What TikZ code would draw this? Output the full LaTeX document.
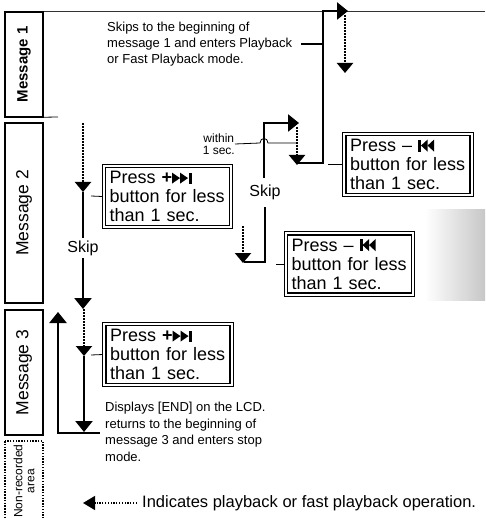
\documentclass[tikz,border=0pt]{standalone}
\usepackage{fontspec}
\setmainfont{Liberation Sans}
\usetikzlibrary{arrows.meta}
\newcommand{\nexttrk}{\tikz[baseline=0pt,x=1pt,y=1pt]{\fill (0,0)--(8,5.5)--(0,11)--cycle; \fill (8,0)--(16,5.5)--(8,11)--cycle; \fill (16.5,0) rectangle (19.5,11);}}
\newcommand{\prevtrk}{\tikz[baseline=0pt,x=1pt,y=1pt]{\fill (0,0) rectangle (3,12); \fill (9.5,0)--(3,6)--(9.5,12)--cycle; \fill (16,0)--(9.5,6)--(16,12)--cycle;}}
\newcommand{\outerframe}[1]{\draw[line width=0.8pt] ([xshift=-2.6pt,yshift=2.6pt]#1.north west) rectangle ([xshift=2.6pt,yshift=-2.6pt]#1.south east);}
\tikzset{
  thk/.style={line width=2.6pt, -{Triangle[width=17pt,length=11pt]}},
  thkline/.style={line width=2.6pt},
  dotarr/.style={line width=2.2pt, dash pattern=on 1.6pt off 1.4pt, -{Triangle[width=16pt,length=10pt]}},
  pbox/.style={draw, line width=1.2pt, align=left,
    font=\fontsize{18}{19}\selectfont, text width=116pt, minimum height=58pt, inner xsep=4pt, inner ysep=1pt},
  msgbox/.style={draw, line width=1.1pt, rotate=90, minimum height=38pt, inner sep=0pt},
  stxt/.style={align=left, inner sep=0pt, font=\fontsize{13}{16.3}\selectfont},
  conn/.style={line width=0.8pt},
  skiplbl/.style={font=\fontsize{16}{18}\selectfont, inner sep=0pt}
}
\begin{document}
\begin{tikzpicture}[x=1pt,y=-1pt]
\clip (0,0) rectangle (485,518);
\fill[white] (0,0) rectangle (485,518);
\shade[left color=white, right color=black!22] (425,210) rectangle (485,300);

% top rule
\coordinate (r0) at (43,11);
\coordinate (r1) at (485,11);
\draw[line width=0.7pt, black!80] (r0) -- (r1);

% message column
\node[msgbox, minimum width=105pt, font=\bfseries\fontsize{15}{17}\selectfont] (m1) at (24,64.5) {Message 1};
\node[msgbox, minimum width=180pt, font=\fontsize{17.5}{19}\selectfont] (m2) at (24,213) {Message 2};
\node[msgbox, minimum width=125pt, font=\fontsize{17.5}{19}\selectfont] (m3) at (24,372.5) {Message 3};
\node[draw, line width=1.8pt, dash pattern=on 1.5pt off 1.3pt, rotate=90, minimum width=80pt, minimum height=38pt,
  inner sep=0pt, align=center, font=\fontsize{12}{12}\selectfont] (nr) at (24,481) {Non-recorded\\area};
\coordinate (m1x) at (58,117);
\draw[line width=0.8pt] (m1.west) -- (m1x);

% top explanatory text and skip-back path
\node[stxt, anchor=west] (skiptxt) at (107,44) {Skips to the beginning of\\message 1 and enters Playback\\or Fast Playback mode.};
\coordinate (t1) at (298,163);
\coordinate (t2) at (323,163);
\coordinate (t3) at (323,11);
\coordinate (t4) at (348,11);
\draw[thk] (t1) -- (t2) -- (t3) -- (t4);
\draw[line width=2pt] ([xshift=9pt]skiptxt.east) -- (skiptxt.east -| t3);
\coordinate (d1a) at (345,15);
\coordinate (d1b) at (345,73);
\draw[dotarr] (d1a) -- (d1b);

\node[pbox] (b1) at (408,164.5) {Press \textendash\ \prevtrk\\button for less\\than 1 sec.};
\outerframe{b1}
\coordinate (c1) at (328,164.5);
\draw[conn] ([xshift=-2.6pt]b1.west) -- (c1);

% within 1 sec path
\node[font=\fontsize{12}{11.5}\selectfont, align=center, inner sep=0pt, anchor=east] (within) at (235,144) {within\\1 sec.};
\coordinate (h1) at (260,143);
\coordinate (h2) at (268,143);
\coordinate (wend) at (296,143);
\draw[conn] (within.east) -- (h1) .. controls (260,137) and (268,137) .. (h2) -- (wend);
\coordinate (w1) at (264,178);
\coordinate (w2) at (264,123);
\coordinate (w3) at (299,123);
\draw[thk] (w1) -- (w2) -- (w3);
\coordinate (d2a) at (297,127);
\coordinate (d2b) at (297,165);
\draw[dotarr] (d2a) -- (d2b);
\node[skiplbl] (skip1) at (265,192) {Skip};
\coordinate (s1) at (244,262);
\coordinate (s2) at (265,262);
\coordinate (s3) at (265,207);
\draw[thkline] (s1) -- (s2) -- (s3);
\coordinate (d3a) at (243,226);
\coordinate (d3b) at (243,263);
\draw[dotarr] (d3a) -- (d3b);

\node[pbox] (b2) at (349.5,264) {Press \textendash\ \prevtrk\\button for less\\than 1 sec.};
\outerframe{b2}
\coordinate (c2) at (276,264);
\draw[conn] ([xshift=-2.6pt]b2.west) -- (c2);

% message 2 forward skip
\coordinate (l1) at (83,123);
\coordinate (l2) at (83,192);
\draw[dotarr] (l1) -- (l2);
\coordinate (l3) at (83,238);
\draw[thkline] (l2) -- (l3);
\node[skiplbl] (skip2) at (83,248) {Skip};
\coordinate (l4) at (83,258);
\coordinate (l5) at (83,309);
\draw[thk] (l4) -- (l5);
\node[pbox] (b3) at (167.5,196.5) {Press \textbf{+}\nexttrk\\button for less\\than 1 sec.};
\outerframe{b3}
\coordinate (c3) at (91,196);
\draw[conn] ([xshift=-2.6pt]b3.west) -- (c3);

% message 3
\coordinate (k1) at (84,309);
\coordinate (k2) at (84,356);
\draw[dotarr] (k1) -- (k2);
\coordinate (k3) at (84,432);
\draw[thk] (k2) -- (k3);
\node[pbox] (b4) at (168,354.5) {Press \textbf{+}\nexttrk\\button for less\\than 1 sec.};
\outerframe{b4}
\coordinate (c4) at (91,355);
\draw[conn] ([xshift=-2.6pt]b4.west) -- (c4);
\coordinate (u1) at (100,433);
\coordinate (u2) at (58,433);
\coordinate (u3) at (58,312);
\draw[thk] (u1) -- (u2) -- (u3);

\node[stxt, anchor=north west, font=\fontsize{13}{16.5}\selectfont] (endtxt) at (105,402) {Displays [END] on the LCD.\\returns to the beginning of\\message 3 and enters stop\\mode.};

% legend
\node[font=\fontsize{16.5}{20}\selectfont, anchor=west, inner sep=0pt] (legtxt) at (142,503) {Indicates playback or fast playback operation.};
\coordinate (legtip) at (83,503);
\draw[line width=1.5pt, dash pattern=on 1.2pt off 1.6pt, -{Triangle[width=14pt,length=12pt]}] ([xshift=-5pt]legtxt.west) -- (legtip);
\end{tikzpicture}
\end{document}
